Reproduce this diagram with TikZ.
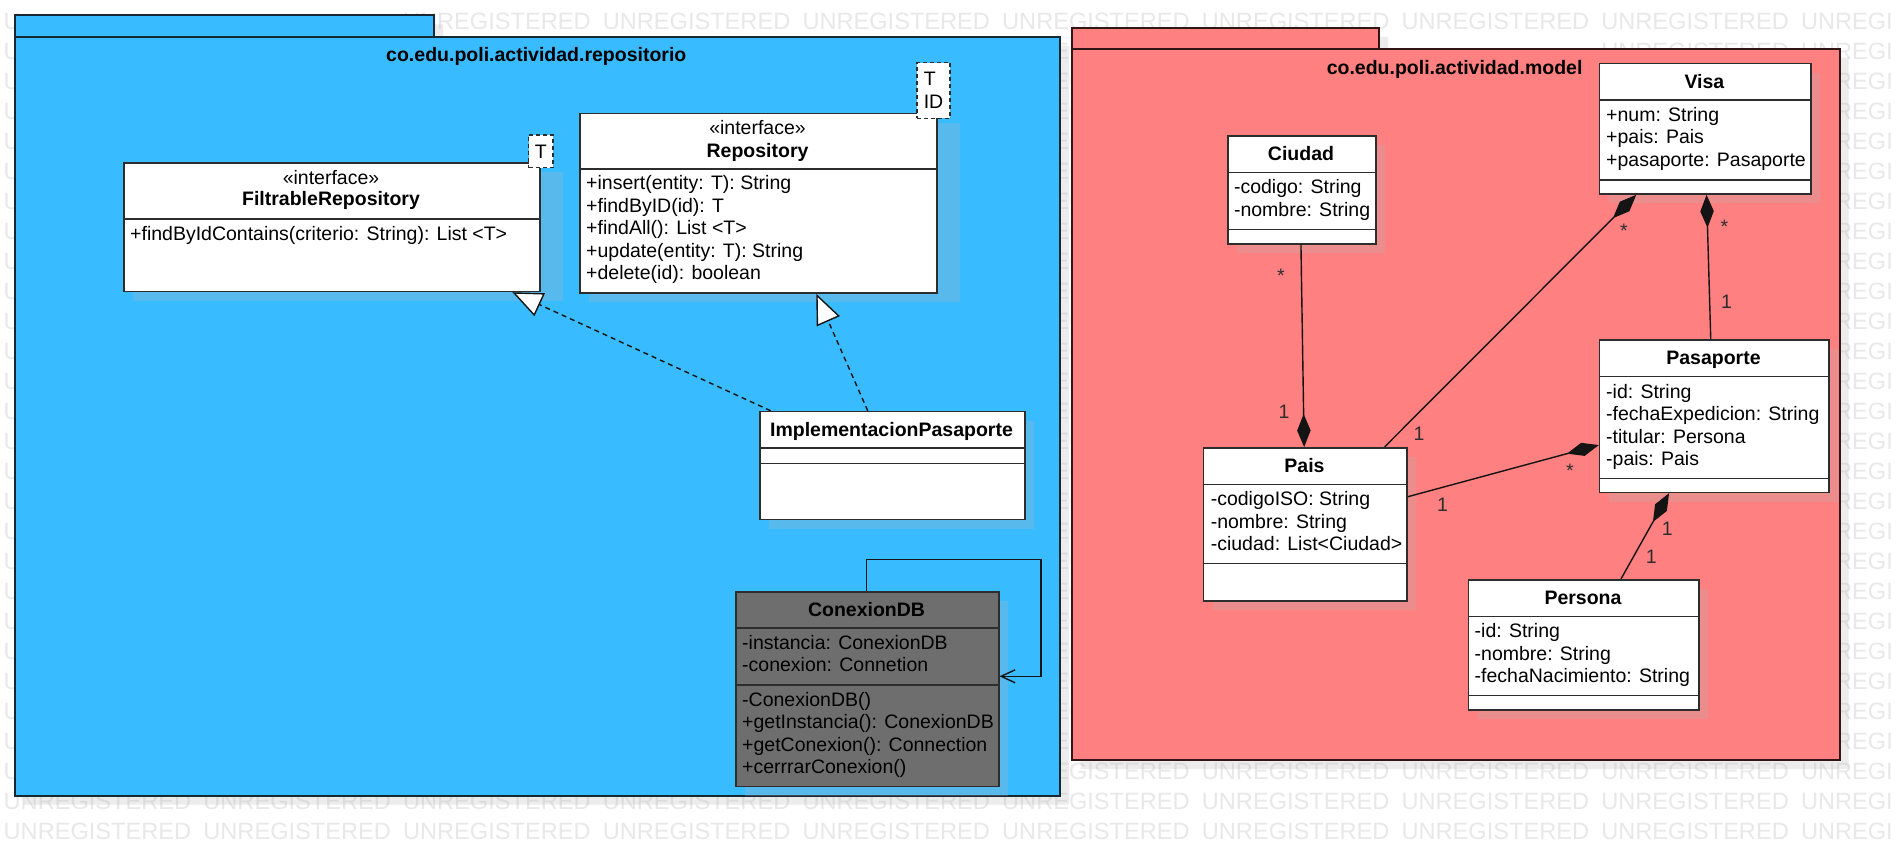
\documentclass[tikz,border=0pt]{standalone}
\usepackage{fontspec}
\setmainfont{Liberation Sans}
\usetikzlibrary{arrows.meta,calc}
\definecolor{pkgblue}{RGB}{56,187,255}
\definecolor{pkgred}{RGB}{255,128,128}
\definecolor{pkgblueline}{RGB}{22,40,52}
\definecolor{pkgredline}{RGB}{50,22,22}
\definecolor{clsgray}{RGB}{110,110,110}
\definecolor{wmark}{RGB}{232,232,232}
\definecolor{shadowc}{RGB}{182,182,182}
\definecolor{bordc}{RGB}{45,45,45}
\definecolor{linec}{RGB}{20,20,20}
\newcommand{\umlfont}{\fontsize{19.5}{22.5}\selectfont}
\begin{document}
\begin{tikzpicture}[x=1pt,y=-1pt,
  every node/.append style={font=\umlfont},
  wm/.style={font=\fontsize{23.6}{26}\selectfont, text=wmark, inner sep=0pt, anchor=base west},
  shadowbox/.style={fill=shadowc, fill opacity=0.26, draw=none},
  pkgbox/.style={draw, line width=2pt, inner sep=0pt, anchor=north west},
  clsbox/.style={draw=bordc, line width=1.5pt, fill=white, inner sep=0pt, anchor=north west},
  divline/.style={draw=bordc, line width=1.5pt},
  txt/.style={inner sep=0pt, text height=14pt, text depth=4pt, anchor=west},
  ctxt/.style={inner sep=0pt, text height=14pt, text depth=4pt, anchor=center},
  bname/.style={ctxt, font=\umlfont\bfseries},
  tmpl/.style={draw=bordc, line width=1.5pt, dash pattern=on 4pt off 3pt, fill=white, inner sep=0pt, align=left},
  realz/.style={draw=linec, line width=1.4pt, dash pattern=on 5pt off 4pt, -{Triangle[length=30pt,width=25pt,fill=white]}},
  comp/.style={draw=linec, line width=1.4pt, -{Diamond[length=33pt,width=13.5pt]}},
  mult/.style={ctxt, text=bordc},
]
\useasboundingbox (0,0) rectangle (1899,855);
\fill[white] (0,0) rectangle (1899,855);

% watermark (only the parts that are not hidden by the packages)
% row k: baseline at 29.35+30k ; column c: x = 3.5+199.7c
\foreach \r in {0,...,25}{
  \node[wm] (wmu-\r) at (3.5,{29.35+30*\r}) {U};
}
\foreach \c in {2,...,8}{
  \node[wm] (wm0-\c) at ({3.5+199.7*\c},29.35) {UNREGISTERED};
}
\node[wm] (wm0-9) at (1800.8,29.35) {UNREGI};
\node[wm] (wm1-5) at (1053.1,59.35) {EG};
\node[wm] (wm1-8) at (1601.1,59.35) {UNREGISTERED};
\node[wm] (wm1-9) at (1800.8,59.35) {UNREGI};
\foreach \r in {2,...,24}{
  \node[wm] (wmg-\r) at (1053.1,{29.35+30*\r}) {EG};
  \node[wm] (wmr-\r) at (1834.9,{29.35+30*\r}) {REGI};
}
\node[wm] (wm25-5) at (1053.1,779.35) {EGISTERED};
\foreach \c in {6,...,8}{
  \node[wm] (wm25-\c) at ({3.5+199.7*\c},779.35) {UNREGISTERED};
}
\node[wm] (wm25-9) at (1800.8,779.35) {UNREGI};
\foreach \r in {26,27}{
  \foreach \c in {0,...,8}{
    \node[wm] (wm\r-\c) at ({3.5+199.7*\c},{29.35+30*\r}) {UNREGISTERED};
  }
  \node[wm] (wm\r-9) at (1800.8,{29.35+30*\r}) {UNREGI};
}

% package shadows
\fill[shadowbox] (23.5,24.3) -- (443,24.3) -- (443,45.7) -- (1069,45.7) -- (1069,804.5) -- (23.5,804.5) -- cycle;
\fill[shadowbox] (1080.7,36.7) -- (1388,36.7) -- (1388,57.7) -- (1848.5,57.7) -- (1848.5,769) -- (1080.7,769) -- cycle;

% packages
\node[pkgbox, draw=pkgblueline, fill=pkgblue, minimum width=419.5pt, minimum height=21.4pt] (repotab) at (13.5,14.3) {};
\node[pkgbox, draw=pkgblueline, fill=pkgblue, minimum width=1045.5pt, minimum height=758.8pt] (repopkg) at (13.5,35.7) {};
\node[bname] (repotitle) at (536.3,56.7) {co.edu.poli.actividad.repositorio};

\node[pkgbox, draw=pkgredline, fill=pkgred, minimum width=307.3pt, minimum height=21pt] (modeltab) at (1070.7,26.7) {};
\node[pkgbox, draw=pkgredline, fill=pkgred, minimum width=767.8pt, minimum height=711.3pt] (modelpkg) at (1070.7,47.7) {};
\node[bname] (modeltitle) at (1454.6,69) {co.edu.poli.actividad.model};

% class shadows
\fill[shadowbox] (133,172.3) rectangle (563,300.7);
\fill[shadowbox] (589,122.7) rectangle (960,302.3);
\fill[shadowbox] (769,420.8) rectangle (1034,528.8);
\fill[shadowbox] (745,601) rectangle (1008,795.7);
\fill[shadowbox] (1608.8,72.7) rectangle (1820,203.3);
\fill[shadowbox] (1237,145) rectangle (1385,253.3);
\fill[shadowbox] (1608.8,349.3) rectangle (1838.3,501.7);
\fill[shadowbox] (1212.9,457) rectangle (1416.2,610);
\fill[shadowbox] (1477.7,589) rectangle (1708.3,719.3);

% FiltrableRepository
\node[clsbox, minimum width=416pt, minimum height=128.4pt] (filt) at (123,162.3) {};
\draw[divline] (123,219) -- (539,219);
\node[ctxt] (filt-s) at (331,179) {«interface»};
\node[bname] (filt-n) at (331,200.7) {FiltrableRepository};
\node[txt] (filt-m1) at (130,235) {+findByIdContains(criterio: String): List <T>};
\node[tmpl, minimum width=24.5pt, minimum height=32.7pt] (filt-t) at (540.75,151.35) {T};

% Repository
\node[clsbox, minimum width=357pt, minimum height=179.6pt] (repo) at (579,112.7) {};
\draw[divline] (579,169) -- (936,169);
\node[ctxt] (repo-s) at (757.5,129) {«interface»};
\node[bname] (repo-n) at (757.5,152.3) {Repository};
\node[txt] (repo-m1) at (586,184.8) {+insert(entity: T): String};
\node[txt] (repo-m2) at (586,207.3) {+findByID(id): T};
\node[txt] (repo-m3) at (586,229.8) {+findAll(): List <T>};
\node[txt] (repo-m4) at (586,252.3) {+update(entity: T): String};
\node[txt] (repo-m5) at (586,274.8) {+delete(id): boolean};
\node[tmpl, minimum width=33pt, minimum height=55.6pt] (repo-t) at (933.5,90.5) {T\\ID};

% ImplementacionPasaporte
\node[clsbox, minimum width=265pt, minimum height=108pt] (impl) at (759,410.8) {};
\draw[divline] (759,448) -- (1024,448);
\draw[divline] (759,463.5) -- (1024,463.5);
\node[bname] (impl-n) at (891.5,431) {ImplementacionPasaporte};

% ConexionDB
\node[clsbox, fill=clsgray, minimum width=263pt, minimum height=194.7pt] (cdb) at (735,591) {};
\draw[divline] (735,628) -- (998,628);
\draw[divline] (735,685) -- (998,685);
\node[bname] (cdb-n) at (866.5,611) {ConexionDB};
\node[txt] (cdb-a1) at (742,644) {-instancia: ConexionDB};
\node[txt] (cdb-a2) at (742,666.5) {-conexion: Connetion};
\node[txt] (cdb-m1) at (742,701) {-ConexionDB()};
\node[txt] (cdb-m2) at (742,723.5) {+getInstancia(): ConexionDB};
\node[txt] (cdb-m3) at (742,746) {+getConexion(): Connection};
\node[txt] (cdb-m4) at (742,768.5) {+cerrrarConexion()};

% Visa
\node[clsbox, minimum width=211.2pt, minimum height=130.6pt] (visa) at (1598.8,62.7) {};
\draw[divline] (1598.8,100) -- (1810,100);
\draw[divline] (1598.8,180) -- (1810,180);
\node[bname] (visa-n) at (1704.4,83.2) {Visa};
\node[txt] (visa-a1) at (1606,116) {+num: String};
\node[txt] (visa-a2) at (1606,138.5) {+pais: Pais};
\node[txt] (visa-a3) at (1606,161) {+pasaporte: Pasaporte};

% Ciudad
\node[clsbox, minimum width=148pt, minimum height=108.3pt] (ciudad) at (1227,135) {};
\draw[divline] (1227,172.3) -- (1375,172.3);
\draw[divline] (1227,229.3) -- (1375,229.3);
\node[bname] (ciudad-n) at (1301,155.5) {Ciudad};
\node[txt] (ciudad-a1) at (1233.8,188.5) {-codigo: String};
\node[txt] (ciudad-a2) at (1233.8,211) {-nombre: String};

% Pasaporte
\node[clsbox, minimum width=229.5pt, minimum height=152.4pt] (pasap) at (1598.8,339.3) {};
\draw[divline] (1598.8,376.7) -- (1828.3,376.7);
\draw[divline] (1598.8,478.3) -- (1828.3,478.3);
\node[bname] (pasap-n) at (1713.5,359.8) {Pasaporte};
\node[txt] (pasap-a1) at (1606,393) {-id: String};
\node[txt] (pasap-a2) at (1606,415.5) {-fechaExpedicion: String};
\node[txt] (pasap-a3) at (1606,438) {-titular: Persona};
\node[txt] (pasap-a4) at (1606,460.5) {-pais: Pais};

% Pais
\node[clsbox, minimum width=203.3pt, minimum height=153pt] (pais) at (1202.9,447) {};
\draw[divline] (1202.9,484.3) -- (1406.2,484.3);
\draw[divline] (1202.9,563.7) -- (1406.2,563.7);
\node[bname] (pais-n) at (1304.5,467.5) {Pais};
\node[txt] (pais-a1) at (1210.6,500.6) {-codigoISO: String};
\node[txt] (pais-a2) at (1210.6,523.1) {-nombre: String};
\node[txt] (pais-a3) at (1210.6,545.6) {-ciudad: List<Ciudad>};

% Persona
\node[clsbox, minimum width=230.6pt, minimum height=130.3pt] (persona) at (1467.7,579) {};
\draw[divline] (1467.7,616.3) -- (1698.3,616.3);
\draw[divline] (1467.7,695.7) -- (1698.3,695.7);
\node[bname] (persona-n) at (1583,599.5) {Persona};
\node[txt] (persona-a1) at (1474.5,632.5) {-id: String};
\node[txt] (persona-a2) at (1474.5,655) {-nombre: String};
\node[txt] (persona-a3) at (1474.5,677.5) {-fechaNacimiento: String};

% realizations
\draw[realz] ([xshift=-121.5pt]impl.north) -- ([xshift=180.7pt]filt.south);
\draw[realz] ([xshift=-24.5pt]impl.north) -- ([xshift=58pt]repo.south);

% self association
\coordinate (loopA) at (1041,559.5);
\coordinate (loopB) at (1041,676.3);
\draw[draw=linec, line width=1.4pt, -{Straight Barb[length=14pt,width=13pt]}]
  ([xshift=-1pt]cdb.north) |- (loopA) -- (loopB) -- (loopB -| cdb.east);

% compositions
\draw[comp] ([xshift=-0.8pt]ciudad.south) -- ([xshift=-1.15pt]pais.north);
\draw[comp] ([xshift=79.2pt]pais.north) -- ([xshift=-68.9pt]visa.south);
\draw[comp] ([xshift=-3.55pt]pasap.north) -- ([xshift=1.4pt]visa.south);
\draw[comp] ([yshift=27.5pt]pais.east) -- ([yshift=-28.8pt]pasap.west);
\draw[comp] ([xshift=37.2pt]persona.north) -- ([xshift=-45.25pt]pasap.south);

% multiplicities
\node[mult] (m1) at (1281,277.5) {*};
\node[mult] (m2) at (1284,413.5) {1};
\node[mult] (m3) at (1624,232.5) {*};
\node[mult] (m4) at (1419,435.3) {1};
\node[mult] (m5) at (1724.4,228.5) {*};
\node[mult] (m6) at (1726.5,303.7) {1};
\node[mult] (m7) at (1570,472.5) {*};
\node[mult] (m8) at (1442.6,506.3) {1};
\node[mult] (m9) at (1667.3,530.3) {1};
\node[mult] (m10) at (1651.2,558.7) {1};
\end{tikzpicture}
\end{document}
